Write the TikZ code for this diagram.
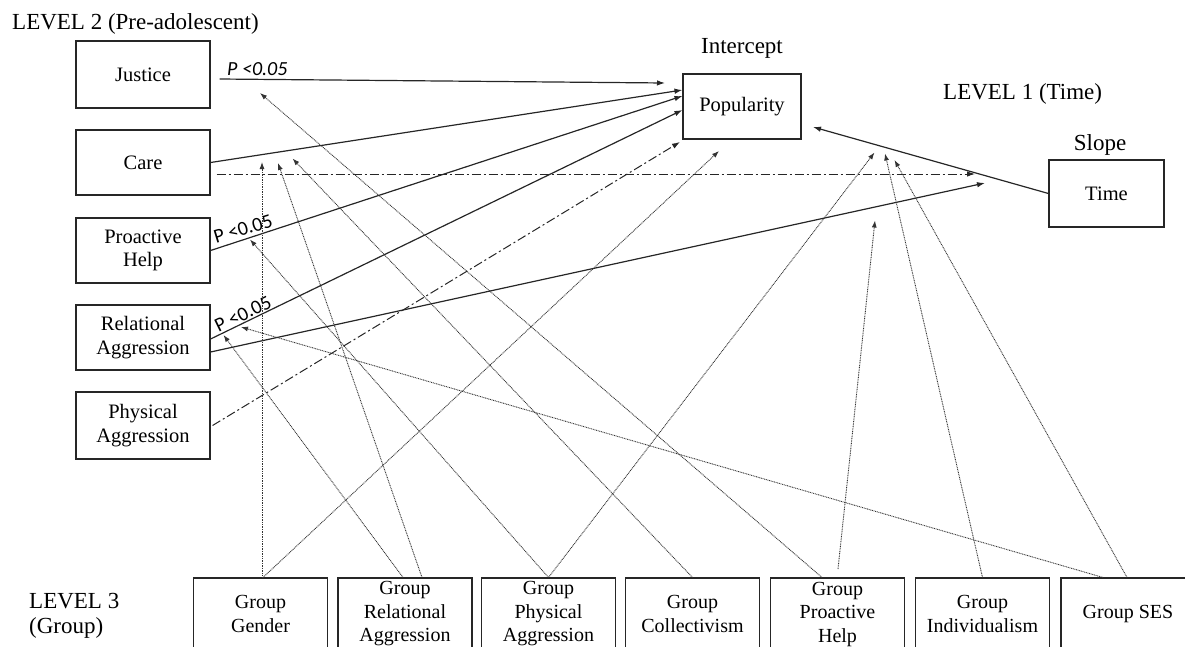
\documentclass[tikz,border=0pt]{standalone}
\usepackage{fontspec}
\setmainfont{Liberation Serif}
\newfontfamily\pfont{Carlito}
\usetikzlibrary{arrows.meta,calc}
\tikzset{
  box/.style={draw=black!85, line width=1.1pt, rectangle, inner sep=0pt, align=center,
              font=\fontsize{20.5}{23.5}\selectfont},
  gbox/.style={box, minimum width=134pt, minimum height=72pt, font=\fontsize{20}{23.5}\selectfont},
  lbox/.style={box, minimum width=134pt, minimum height=66pt},
  lab/.style={font=\fontsize{23}{26}\selectfont, inner sep=0pt},
  ptext/.style={font=\pfont\fontsize{20}{22}\selectfont, inner sep=0pt},
  solidarr/.style={draw=black!85, line width=1.2pt, -{Latex[length=8pt,width=5.5pt]}},
  dasharr/.style={draw=black!85, line width=1.0pt, dash pattern=on 9pt off 3pt on 2pt off 3pt,
                  -{Latex[length=8pt,width=5.5pt]}},
  dotarr/.style={draw=black!80, line width=0.9pt, dash pattern=on 0.9pt off 0.8pt,
                 -{Latex[length=7pt,width=5pt]}},
}
\begin{document}
\begin{tikzpicture}[x=1pt,y=-1pt]
\useasboundingbox (0,0) rectangle (1185,646);
\clip (0,0) rectangle (1185,646);

% labels
\node[lab, anchor=base west] (lv2) at (12,29) {LEVEL 2 (Pre-adolescent)};
\node[lab, anchor=base] (icp) at (742,53) {Intercept};
\node[lab, anchor=base west] (lv1) at (943,99) {LEVEL 1 (Time)};
\node[lab, anchor=base] (slp) at (1100,150) {Slope};
\node[lab, anchor=base west] (lv3a) at (29,608) {LEVEL 3};
\node[lab, anchor=base west] (lv3b) at (29,633) {(Group)};

% level 2 boxes
\node[lbox, minimum height=67pt] (justice) at (143,74.5) {Justice};
\node[lbox, minimum height=65pt] (care) at (143,162.5) {Care};
\node[lbox, minimum height=65pt] (help) at (143,250.5) {Proactive\\Help};
\node[lbox, minimum height=65pt] (rel) at (143,337.5) {Relational\\Aggression};
\node[lbox, minimum height=67pt] (phys) at (143,425.5) {Physical\\Aggression};

% level 1 boxes
\node[box, minimum width=118pt, minimum height=65pt] (pop) at (742,106.5) {Popularity};
\node[box, minimum width=115pt, minimum height=67pt] (time) at (1106.5,193.5) {Time};

% level 3 boxes
\node[gbox] (gender) at (260.5,614) {Group\\Gender};
\node[gbox] (grel) at (405,614) {Group\\Relational\\Aggression};
\node[gbox] (gphys) at (548.5,614) {Group\\Physical\\Aggression};
\node[gbox] (gcoll) at (692.5,614) {Group\\Collectivism};
\node[gbox] (ghelp) at (837.5,614) {Group\\Proactive\\Help};
\node[gbox] (gind) at (982.5,614) {Group\\Individualism};
\node[gbox] (gses) at (1128,614) {Group SES};

% arrow tip coordinates
\coordinate (jtip) at (665,83);
\coordinate (rttip) at (985,183);
\coordinate (tptip) at (813,127);
\coordinate (dctip) at (975,174);
\coordinate (phtip) at (680,142);
\coordinate (c1) at (262,162);
\coordinate (c2) at (278,163);
\coordinate (c3) at (292.5,158.5);
\coordinate (popb) at (719,151);
\coordinate (r1) at (223.5,335);
\coordinate (r2) at (241,327);
\coordinate (h1) at (250,239.5);
\coordinate (j2) at (260,93);
\coordinate (s1) at (874.5,152.5);
\coordinate (s2) at (885,153.5);
\coordinate (s3) at (894.5,160);
\coordinate (s4) at (875,220.5);
\coordinate (hstart) at (838,569);

% solid connectors
\draw[solidarr] ([shift={(9,4.5)}]justice.east) -- (jtip);
\draw[solidarr] (care.east) -- ([shift={(0,-16.5)}]pop.west);
\draw[solidarr] (help.east) -- ([shift={(0,-10.5)}]pop.west);
\draw[solidarr] ([shift={(0,1.5)}]rel.east) -- ([shift={(0,3.5)}]pop.west);
\draw[solidarr] ([shift={(0,14.5)}]rel.east) -- (rttip);
\draw[solidarr] (time.west) -- (tptip);

% dash-dot connectors
\draw[dasharr] ([shift={(6,11.5)}]care.east) -- (dctip);
\draw[dasharr] ([shift={(2,0)}]phys.east) -- (phtip);

% p labels
\node[ptext, font=\pfont\itshape\fontsize{20}{22}\selectfont, anchor=base west] (p1) at (227,75) {P <0.05};
\node[ptext, rotate=17] (p2) at (243,229) {P <0.05};
\node[ptext, rotate=26] (p3) at (243,314) {P <0.05};

% dotted connectors from level 3
\draw[dotarr] ([shift={(1.5,0)}]gender.north) -- (c1);
\draw[dotarr] ([shift={(2.5,0)}]gender.north) -- (popb);
\draw[dotarr] ([shift={(-2,0)}]grel.north) -- (r1);
\draw[dotarr] ([shift={(17,0)}]grel.north) -- (c2);
\draw[dotarr] (gphys.north) -- (h1);
\draw[dotarr] (gphys.north) -- (s1);
\draw[dotarr] (gcoll.north) -- (c3);
\draw[dotarr] ([shift={(-15.5,0)}]ghelp.north) -- (j2);
\draw[dotarr] (hstart) -- (s4);
\draw[dotarr] (gind.north) -- (s2);
\draw[dotarr] ([shift={(-25,0)}]gses.north) -- (r2);
\draw[dotarr] ([shift={(-1,0)}]gses.north) -- (s3);
\end{tikzpicture}
\end{document}
